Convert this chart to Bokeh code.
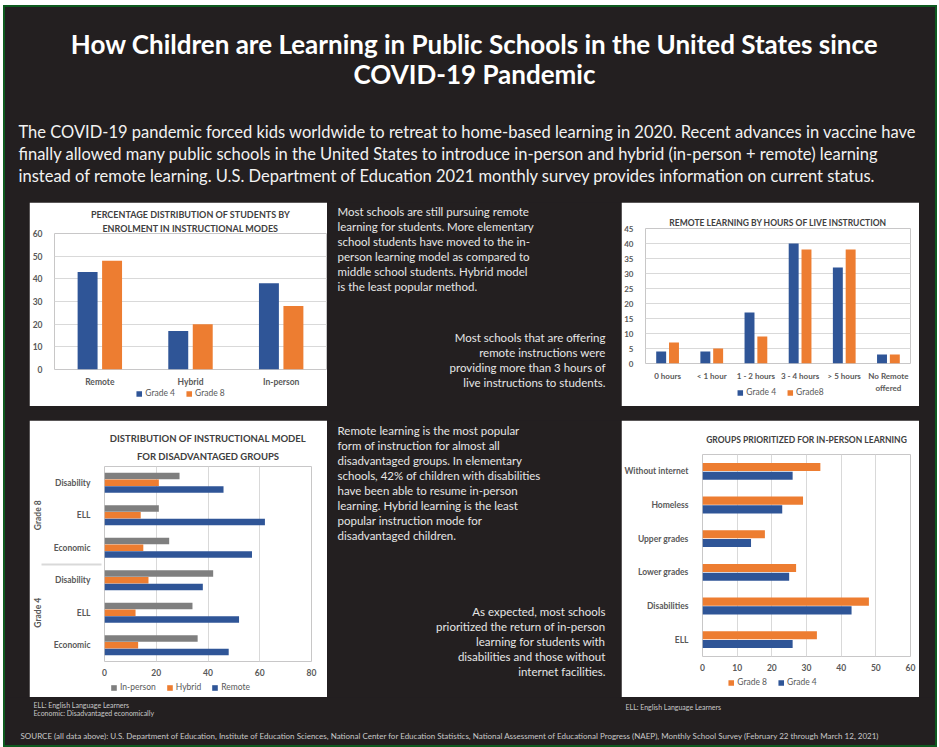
from bokeh.plotting import figure
from bokeh.models import (ColumnDataSource, FactorRange, Range1d, Legend, Title, FixedTicker)
from bokeh.transform import dodge
from bokeh.core.properties import value
from bokeh.embed import file_html
from bokeh.resources import INLINE

DARK = "#231f20"
BLUE = "#2f5597"
ORANGE = "#ed7d31"
GRAY = "#7f7f7f"
FONT = "Lato"
AXC = "#595959"
TXT = "#e6e6e6"

# ---------------- data ----------------
modes = ["Remote", "Hybrid", "In-person"]
modes_g4 = [43, 17, 38]
modes_g8 = [48, 20, 28]

hours = ["0 hours", "< 1 hour", "1 - 2 hours", "3 - 4 hours", "> 5 hours", "No Remote\noffered"]
hours_g4 = [4, 4, 17, 40, 32, 3]
hours_g8 = [7, 5, 9, 38, 38, 3]

dis_grades = ["Grade 4", "Grade 4", "Grade 4", "Grade 8", "Grade 8", "Grade 8"]
dis_groups = ["Economic", "ELL", "Disability", "Economic", "ELL", "Disability"]
dis_inperson = [36, 34, 42, 25, 21, 29]
dis_hybrid = [13, 12, 17, 15, 14, 21]
dis_remote = [48, 52, 38, 57, 62, 46]

prio_groups = ["ELL", "Disabilities", "Lower grades", "Upper grades", "Homeless", "Without internet"]
prio_g8 = [33, 48, 27, 18, 29, 34]
prio_g4 = [26, 43, 25, 14, 23, 26]

title_lines = ["How Children are Learning in Public Schools in the United States since",
               "COVID-19 Pandemic"]
intro_lines = [
    "The COVID-19 pandemic forced kids worldwide to retreat to home-based learning in 2020. Recent advances in vaccine have",
    "finally allowed many public schools in the United States to introduce in-person and hybrid (in-person + remote) learning",
    "instead of remote learning. U.S. Department of Education 2021 monthly survey provides information on current status.",
]
text1 = ["Most schools are still pursuing remote", "learning for students. More elementary",
         "school students have moved to the in-", "person learning model as compared to",
         "middle school students. Hybrid model", "is the least popular method."]
text2 = ["Most schools that are offering", "remote instructions were",
         "providing more than 3 hours of", "live instructions to students."]
text3 = ["Remote learning is the most popular", "form of instruction for almost all",
         "disadvantaged groups. In elementary", "schools, 42% of children with disabilities",
         "have been able to resume in-person", "learning.  Hybrid learning is the least",
         "popular instruction mode for", "disadvantaged children."]
text4 = ["As expected, most schools", "prioritized the return of in-person",
         "learning for students with", "disabilities and those without", "internet facilities."]
notes_left = ["ELL: English Language Learners", "Economic: Disadvantaged economically"]
notes_right = ["ELL: English Language Learners"]
source_text = ("SOURCE (all data above): U.S. Department of Education, Institute of Education Sciences, "
               "National Center for Education Statistics, National Assessment of Educational Progress (NAEP), "
               "Monthly School Survey (February 22 through March 12, 2021)")


# ---------------- helpers ----------------
def text_fig(name, w, h):
    p = figure(name=name, width=w, height=h, x_range=Range1d(0, w), y_range=Range1d(h, 0),
               output_backend="svg", toolbar_location=None, min_border=0)
    p.axis.visible = False
    p.grid.visible = False
    p.outline_line_color = None
    p.background_fill_color = DARK
    p.border_fill_color = DARK
    return p


def add_lines(p, x, y0, dy, lines, size, color, align="left", style="normal"):
    p.text(x=[x] * len(lines), y=[y0 + i * dy for i in range(len(lines))], text=lines,
           text_font=value(FONT), text_font_size=size, text_color=color,
           text_align=align, text_baseline="middle", text_font_style=style)


def chart_fig(name, w, h, **kw):
    p = figure(name=name, width=w, height=h, output_backend="svg", toolbar_location=None, **kw)
    p.background_fill_color = "white"
    p.border_fill_color = "white"
    p.outline_line_color = None
    p.axis.axis_line_color = None
    p.axis.major_tick_line_color = None
    p.axis.minor_tick_line_color = None
    p.xaxis.major_tick_out = 0
    p.axis.major_label_text_font = FONT
    p.axis.major_label_text_font_size = "8.5px"
    p.axis.major_label_text_font_style = "bold"
    p.axis.major_label_text_color = AXC
    p.grid.grid_line_color = "#d9d9d9"
    return p


def add_titles(p, lines, size, standoffs):
    for ln, so in zip(reversed(lines), standoffs):
        p.add_layout(Title(text=ln, align="center", text_font=FONT, text_font_size=size,
                           text_font_style="bold", text_color="#404040", standoff=so), "above")


def legend_fig(name, w, labels, colors):
    """A small white strip holding a chart's legend; its swatch bars sit outside the view."""
    p = figure(name=name, width=w, height=12, x_range=Range1d(0, 1), y_range=Range1d(0, 1),
               output_backend="svg", toolbar_location=None, min_border=0)
    p.axis.visible = False
    p.grid.visible = False
    p.outline_line_color = None
    p.background_fill_color = "white"
    p.border_fill_color = "white"
    items = []
    for lab, col in zip(labels, colors):
        r = p.vbar(x=[-5], top=[-5], width=0.1, fill_color=col, line_color=None)
        items.append((lab, [r]))
    lg = Legend(items=items, orientation="horizontal", location="center",
                label_text_font=FONT, label_text_font_size="8.5px", label_text_color=AXC,
                glyph_width=7, glyph_height=7, label_height=9, label_standoff=3,
                spacing=10, padding=0, margin=0, border_line_color=None,
                background_fill_alpha=0)
    p.add_layout(lg, "center")
    return p


# ---------------- header (page x 5..935, y 7..202) ----------------
header = text_fig("header", 930, 195)
add_lines(header, 469, 36, 30, title_lines, "26px", "white", align="center", style="bold")
add_lines(header, 13, 124, 22, intro_lines, "16.5px", "#f2f2f2")

# ---------------- chart 1 ----------------
src1 = ColumnDataSource(dict(mode=modes, g4=modes_g4, g8=modes_g8))
p1 = chart_fig("p1", 298, 204, x_range=FactorRange(*modes), y_range=Range1d(0, 60),
               min_border_left=22, min_border_right=1, min_border_top=31, min_border_bottom=37)
p1.vbar(x=dodge("mode", -0.135, range=p1.x_range), top="g4", width=0.22,
        source=src1, fill_color=BLUE, line_color=None)
p1.vbar(x=dodge("mode", 0.135, range=p1.x_range), top="g8", width=0.22,
        source=src1, fill_color=ORANGE, line_color=None)
p1.yaxis.ticker = FixedTicker(ticks=[0, 10, 20, 30, 40, 50, 60])
p1.yaxis.major_label_standoff = 6
p1.xaxis.major_label_standoff = 7
p1.xgrid.grid_line_color = None
add_titles(p1, ["PERCENTAGE DISTRIBUTION OF STUDENTS BY", "ENROLMENT IN INSTRUCTIONAL MODES"],
           "9px", [0, 1])
lg1 = legend_fig("lg1", 160, ["Grade 4", "Grade 8"], [BLUE, ORANGE])

# ---------------- text A ----------------
midA = text_fig("midA", 294, 204)
add_lines(midA, 10, 9, 15, text1, "11.5px", TXT)
add_lines(midA, 278, 135, 15, text2, "11.5px", TXT, align="right")

# ---------------- chart 2 ----------------
src2 = ColumnDataSource(dict(h=hours, g4=hours_g4, g8=hours_g8))
p2 = chart_fig("p2", 298, 204, x_range=FactorRange(*hours), y_range=Range1d(0, 45),
               min_border_left=22, min_border_right=9, min_border_top=26, min_border_bottom=43)
p2.vbar(x=dodge("h", -0.145, range=p2.x_range), top="g4", width=0.225,
        source=src2, fill_color=BLUE, line_color=None)
p2.vbar(x=dodge("h", 0.145, range=p2.x_range), top="g8", width=0.225,
        source=src2, fill_color=ORANGE, line_color=None)
p2.yaxis.ticker = FixedTicker(ticks=list(range(0, 46, 5)))
p2.yaxis.major_label_standoff = 6
p2.xaxis.major_label_standoff = 7
p2.axis.major_label_text_font_size = "8px"
p2.xgrid.grid_line_color = None
add_titles(p2, ["REMOTE LEARNING BY HOURS OF LIVE INSTRUCTION"], "8.5px", [2])
lg2 = legend_fig("lg2", 160, ["Grade 4", "Grade8"], [BLUE, ORANGE])

# ---------------- chart 3 ----------------
dis_factors = list(zip(dis_grades, dis_groups))
src3 = ColumnDataSource(dict(f=dis_factors, ip=dis_inperson, hy=dis_hybrid, re=dis_remote))
p3 = chart_fig("p3", 298, 277, y_range=FactorRange(*dis_factors, group_padding=0),
               x_range=Range1d(0, 80),
               min_border_left=75, min_border_right=16, min_border_top=46, min_border_bottom=36)
p3.hbar(y=dodge("f", 0.21, range=p3.y_range), right="ip", height=0.2,
        source=src3, fill_color=GRAY, line_color=None)
p3.hbar(y=dodge("f", 0.0, range=p3.y_range), right="hy", height=0.2,
        source=src3, fill_color=ORANGE, line_color=None)
p3.hbar(y=dodge("f", -0.21, range=p3.y_range), right="re", height=0.2,
        source=src3, fill_color=BLUE, line_color=None)
p3.xaxis.ticker = FixedTicker(ticks=[0, 20, 40, 60, 80])
p3.ygrid.grid_line_color = None
p3.yaxis.major_label_standoff = 8
p3.yaxis.group_text_font = FONT
p3.yaxis.group_text_font_size = "8.5px"
p3.yaxis.group_text_font_style = "bold"
p3.yaxis.group_text_color = AXC
p3.yaxis.separator_line_color = "#d9d9d9"
p3.xaxis.major_label_standoff = 7
add_titles(p3, ["DISTRIBUTION OF INSTRUCTIONAL MODEL", "FOR DISADVANTAGED GROUPS"],
           "9.5px", [9, 2])
lg3 = legend_fig("lg3", 180, ["In-person", "Hybrid", "Remote"], [GRAY, ORANGE, BLUE])

# ---------------- text B ----------------
midB = text_fig("midB", 294, 277)
add_lines(midB, 10, 10, 15, text3, "11.5px", TXT)
add_lines(midB, 278, 191, 15, text4, "11.5px", TXT, align="right")

# ---------------- chart 4 ----------------
src4 = ColumnDataSource(dict(g=prio_groups, g8=prio_g8, g4=prio_g4))
p4 = chart_fig("p4", 298, 277, y_range=FactorRange(*prio_groups), x_range=Range1d(0, 60),
               min_border_left=71, min_border_right=9, min_border_top=34, min_border_bottom=41)
p4.hbar(y=dodge("g", 0.13, range=p4.y_range), right="g8", height=0.24,
        source=src4, fill_color=ORANGE, line_color=None)
p4.hbar(y=dodge("g", -0.13, range=p4.y_range), right="g4", height=0.24,
        source=src4, fill_color=BLUE, line_color=None)
p4.xaxis.ticker = FixedTicker(ticks=[0, 10, 20, 30, 40, 50, 60])
p4.ygrid.grid_line_color = None
p4.yaxis.major_label_standoff = 8
p4.xaxis.major_label_standoff = 7
add_titles(p4, ["GROUPS PRIORITIZED FOR IN-PERSON LEARNING"], "8.5px", [19])
lg4 = legend_fig("lg4", 160, ["Grade 8", "Grade 4"], [ORANGE, BLUE])

# ---------------- footer (page x 5..935, y 697..745) ----------------
footer = text_fig("footer", 930, 48)
add_lines(footer, 28, 7, 8, notes_left, "7px", "#c8c8c8")
add_lines(footer, 620, 9, 8, notes_right, "7px", "#c8c8c8")
add_lines(footer, 15, 38, 8, [source_text], "8px", "#c8c8c8")

# each figure is its own root, placed on the page by a small template
TEMPLATE = """
{% block contents %}
{% from macros import embed %}
<div style="position:absolute;left:3px;top:5px;width:934px;height:742px;box-sizing:border-box;border:2px solid #0d5a1f;background:#231f20;"></div>
<div style="position:absolute;left:5px;top:7px;">{{ embed(roots.header) }}</div>
<div style="position:absolute;left:29px;top:202px;">{{ embed(roots.p1) }}</div>
<div style="position:absolute;left:327px;top:202px;">{{ embed(roots.midA) }}</div>
<div style="position:absolute;left:621px;top:202px;">{{ embed(roots.p2) }}</div>
<div style="position:absolute;left:29px;top:420px;">{{ embed(roots.p3) }}</div>
<div style="position:absolute;left:327px;top:420px;">{{ embed(roots.midB) }}</div>
<div style="position:absolute;left:621px;top:420px;">{{ embed(roots.p4) }}</div>
<div style="position:absolute;left:5px;top:697px;">{{ embed(roots.footer) }}</div>
<div style="position:absolute;left:100px;top:387px;">{{ embed(roots.lg1) }}</div>
<div style="position:absolute;left:700px;top:386px;">{{ embed(roots.lg2) }}</div>
<div style="position:absolute;left:90px;top:681px;">{{ embed(roots.lg3) }}</div>
<div style="position:absolute;left:692px;top:676px;">{{ embed(roots.lg4) }}</div>
{% endblock %}
"""

roots = [header, p1, midA, p2, p3, midB, p4, footer, lg1, lg2, lg3, lg4]
open("out.html", "w").write(file_html(roots, INLINE, title="How Children are Learning",
                                      template=TEMPLATE))
